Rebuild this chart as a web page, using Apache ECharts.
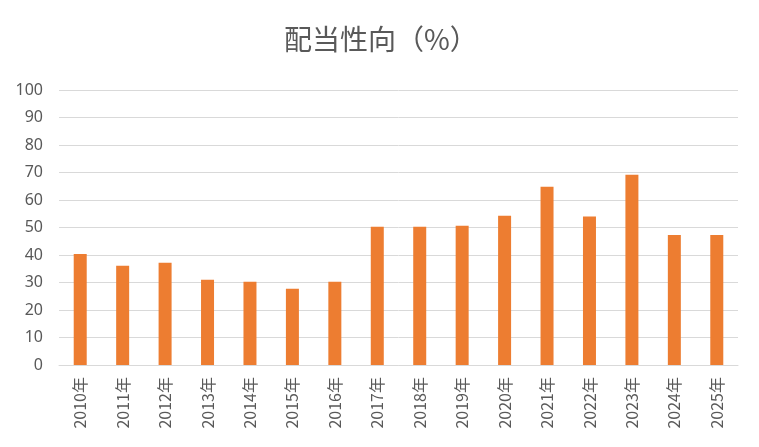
<!DOCTYPE html>
<html><head><meta charset="utf-8">
<script src="https://cdn.jsdelivr.net/npm/echarts@6/dist/echarts.min.js"></script>
<style>html,body{margin:0;padding:0;background:#fff}#c{width:759px;height:447px}</style>
</head><body><div id="c"></div>
<script>
const categories = ["2010年","2011年","2012年","2013年","2014年","2015年","2016年","2017年","2018年","2019年","2020年","2021年","2022年","2023年","2024年","2025年"];
const payoutRatio = [40.4, 36.1, 37.2, 31.0, 30.3, 27.7, 30.3, 50.3, 50.3, 50.6, 54.3, 64.8, 54.0, 69.2, 47.3, 47.3];
const titleText = "配当性向（%）";

const chart = echarts.init(document.getElementById('c'), null, {renderer:'canvas'});
chart.setOption({
  animation:false,
  title:{text:titleText, left:279, top:20,
    textStyle:{fontFamily:'"Noto Sans CJK JP", sans-serif', fontSize:28, fontWeight:'normal', color:'#595959'}},
  grid:{left:59, right:21, top:90, bottom:82, containLabel:false},
  xAxis:{type:'category', data:categories,
    axisLine:{lineStyle:{color:'#d9d9d9', width:1}},
    axisTick:{show:false},
    axisLabel:{rotate:90, interval:0, margin:12, color:'#595959', fontSize:16,
      fontFamily:'"Noto Sans CJK JP", sans-serif'}},
  yAxis:{type:'value', min:0, max:100, interval:10,
    axisLine:{show:false}, axisTick:{show:false},
    splitLine:{lineStyle:{color:'#d9d9d9', width:1}},
    axisLabel:{color:'#595959', fontSize:16, margin:16, fontFamily:'"Noto Sans", sans-serif'}},
  series:[{type:'bar', data:payoutRatio, barWidth:13,
    itemStyle:{color:'#ed7d31'}}]
});
</script></body></html>
